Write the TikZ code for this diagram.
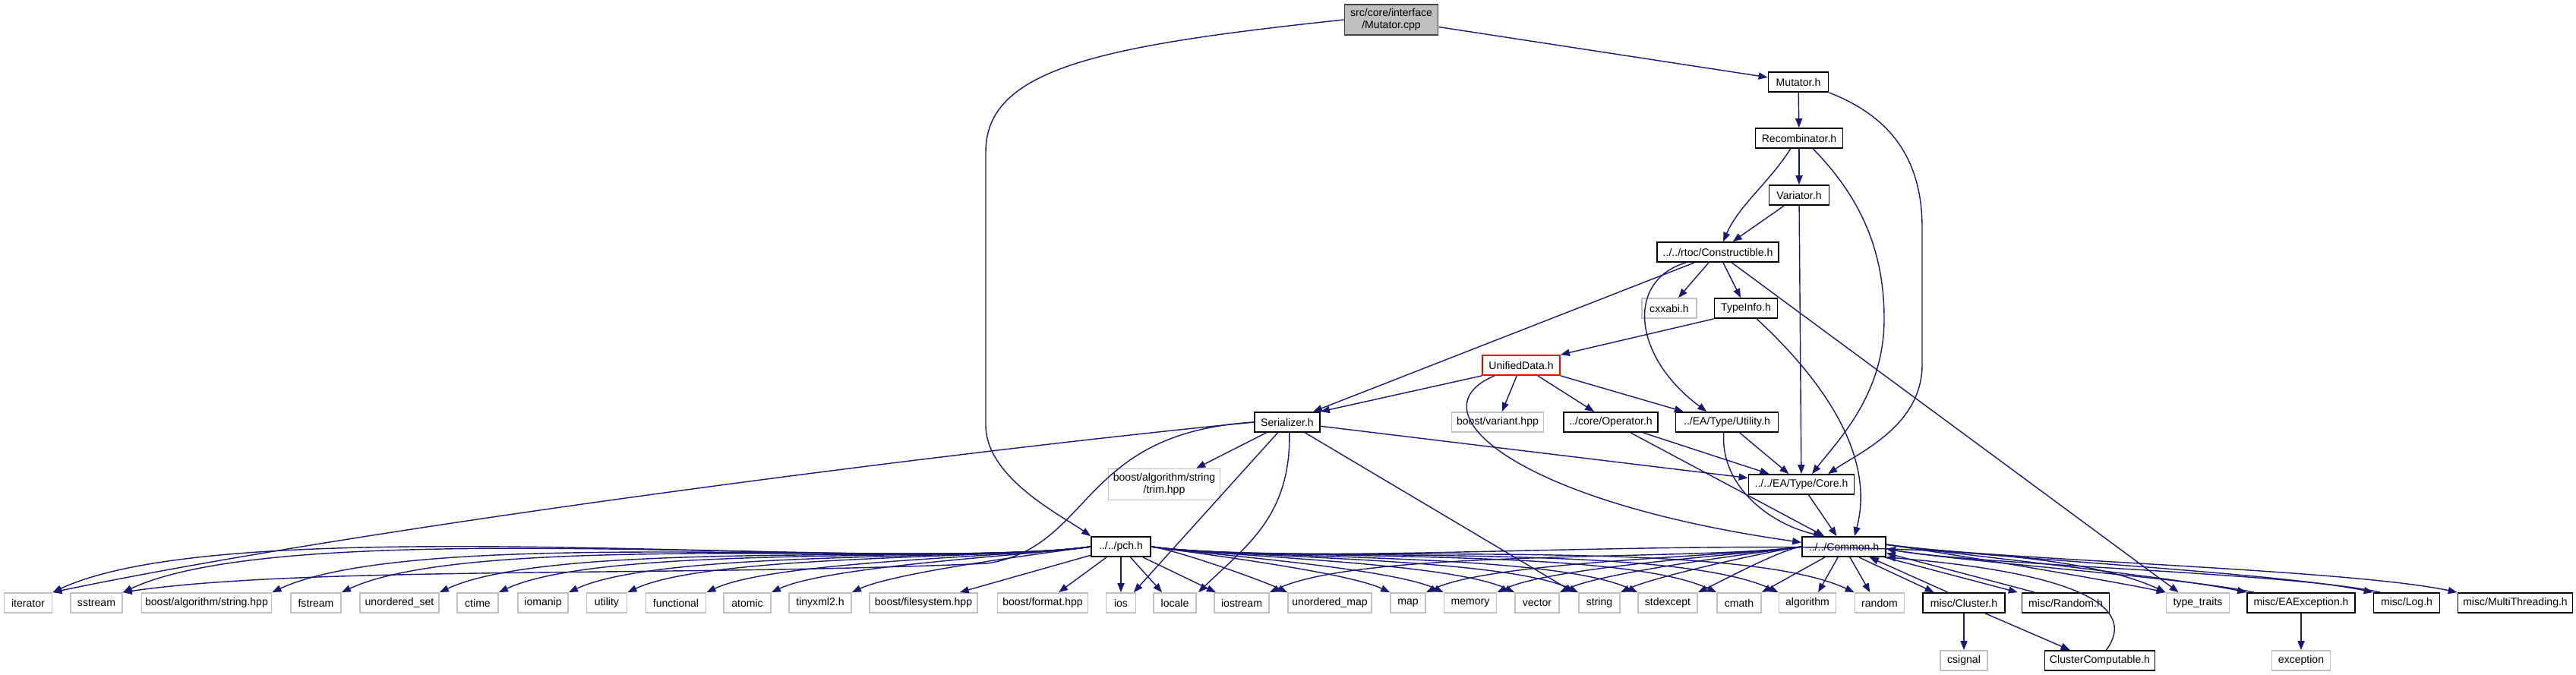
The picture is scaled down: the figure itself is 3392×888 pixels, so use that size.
\documentclass[tikz,border=0pt]{standalone}
\usepackage{fontspec}
\setsansfont{Liberation Sans}
\usepackage{xcolor}
\usetikzlibrary{arrows.meta}
\definecolor{inclblue}{HTML}{191970}
\definecolor{extgray}{HTML}{BFBFBF}

\begin{document}
\begin{tikzpicture}[x=0.025cm,y=-0.025cm,>={Triangle[length=8.5pt,width=6.5pt]},
  font=\sffamily\fontsize{10}{11.5}\selectfont,
  hbox/.style={draw,line width=1.3pt,fill=white,inner sep=0pt,minimum height=0.65cm},
  hdr/.style={hbox,draw=black},
  ext/.style={hbox,draw=extgray},
  rootbox/.style={hbox,draw=black!75,fill=extgray,align=center,minimum height=1cm},
  bw/.style={minimum width=#1*0.025cm},
  incl/.style={->,draw=inclblue,line width=1pt}]
  \useasboundingbox (0,0) rectangle (3392,888);

  \node[rootbox,bw=123] (root) at (1832,26) {src/core/interface\\/Mutator.cpp};
  \node[hdr,bw=79] (mutator) at (2368,108) {Mutator.h};
  \node[hdr,bw=115] (recomb) at (2369,182) {Recombinator.h};
  \node[hdr,bw=79] (variator) at (2369,257) {Variator.h};
  \node[hdr,bw=160] (constr) at (2262,332) {../../rtoc/Constructible.h};
  \node[ext,bw=72] (cxxabi) at (2198,406) {cxxabi.h};
  \node[hdr,bw=83] (typeinfo) at (2299,406) {TypeInfo.h};
  \node[hdr,draw=red,bw=102] (unified) at (2003,481) {UnifiedData.h};
  \node[hdr,bw=86] (serializer) at (1695,556) {Serializer.h};
  \node[ext,bw=121] (variant) at (1972,556) {boost/variant.hpp};
  \node[hdr,bw=124] (operator) at (2121,556) {../core/Operator.h};
  \node[hdr,bw=135] (utility) at (2274,556) {../EA/Type/Utility.h};
  \node[ext,bw=147,minimum height=41*0.025cm,align=center] (trim) at (1533,638)
    {boost/algorithm/string\\/trim.hpp};
  \node[hdr,bw=139] (core) at (2372,638) {../../EA/Type/Core.h};
  \node[hdr,bw=78] (pch) at (1476,720) {../../pch.h};
  \node[hdr,bw=110] (common) at (2428,720) {../../Common.h};

  % bottom row
  \node[ext,bw=63] (iterator) at (37,794) {iterator};
  \node[ext,bw=68] (sstream) at (127,794) {sstream};
  \node[ext,bw=171] (strhpp) at (272,794) {boost/algorithm/string.hpp};
  \node[ext,bw=66] (fstream) at (416,794) {fstream};
  \node[ext,bw=104] (unordset) at (526,794) {unordered\_set};
  \node[ext,bw=54] (ctime) at (629,794) {ctime};
  \node[ext,bw=66] (iomanip) at (715,794) {iomanip};
  \node[ext,bw=53] (utilhdr) at (799,794) {utility};
  \node[ext,bw=79] (functional) at (890,794) {functional};
  \node[ext,bw=62] (atomic) at (984,794) {atomic};
  \node[ext,bw=82] (tinyxml) at (1080,794) {tinyxml2.h};
  \node[ext,bw=142] (filesystem) at (1216,794) {boost/filesystem.hpp};
  \node[ext,bw=119] (format) at (1373,794) {boost/format.hpp};
  \node[ext,bw=39] (ios) at (1476,794) {ios};
  \node[ext,bw=56] (locale) at (1547,794) {locale};
  \node[ext,bw=72] (iostream) at (1635,794) {iostream};
  \node[ext,bw=110] (unordmap) at (1751,794) {unordered\_map};
  \node[ext,bw=46] (map) at (1854,794) {map};
  \node[ext,bw=69] (memory) at (1936,794) {memory};
  \node[ext,bw=58] (vector) at (2024,794) {vector};
  \node[ext,bw=54] (string) at (2106,794) {string};
  \node[ext,bw=78] (stdexcept) at (2196,794) {stdexcept};
  \node[ext,bw=58] (cmath) at (2290,794) {cmath};
  \node[ext,bw=75] (algorithm) at (2380,794) {algorithm};
  \node[ext,bw=65] (random) at (2475,794) {random};
  \node[hdr,bw=108] (cluster) at (2586,794) {misc/Cluster.h};
  \node[hdr,bw=115] (miscrandom) at (2720,794) {misc/Random.h};
  \node[ext,bw=83] (typetraits) at (2894,794) {type\_traits};
  \node[hdr,bw=142] (eaexception) at (3030,794) {misc/EAException.h};
  \node[hdr,bw=87] (log) at (3169,794) {misc/Log.h};
  \node[hdr,bw=151] (multithreading) at (3312,794) {misc/MultiThreading.h};
  \node[ext,bw=62] (csignal) at (2586,870) {csignal};
  \node[hdr,bw=145] (clustercomp) at (2765,870) {ClusterComputable.h};
  \node[ext,bw=77] (exception) at (3030,870) {exception};

  % upper includes
  \draw[incl] (root) -- (mutator);
  \draw[incl] (root.west) .. controls (1450,60) and (1298,90) .. (1298,200)
    -- (1298,560) .. controls (1298,630) and (1400,680) .. (pch.north west);
  \draw[incl] (mutator) -- (recomb);
  \draw[incl] (mutator.south east) .. controls (2480,150) and (2531,200) .. (2531,300)
    -- (2531,480) .. controls (2531,560) and (2450,595) .. ([xshift=25pt]core.north);
  \draw[incl] (recomb) -- (variator);
  \draw[incl] ([xshift=-8pt]recomb.south) .. controls (2330,240) and (2290,270)
    .. ([xshift=5pt]constr.north);
  \draw[incl] ([xshift=13pt]recomb.south) .. controls (2450,260) and (2481,330) .. (2481,420)
    .. controls (2481,520) and (2420,580) .. ([xshift=10pt]core.north);
  \draw[incl] ([xshift=-14pt]variator.south) -- ([xshift=14pt]constr.north);
  \draw[incl] (variator) -- (core);
  \draw[incl] (constr) -- (cxxabi);
  \draw[incl] (constr) -- (typeinfo);
  \draw[incl] ([xshift=-22pt]constr.south) -- ([xshift=-7pt]serializer.north east);
  \draw[incl] ([xshift=-30pt]constr.south) .. controls (2140,370) and (2150,470)
    .. ([xshift=-19pt]utility.north);
  \draw[incl] ([xshift=13pt]constr.south) -- ([xshift=-18pt]typetraits.north);
  \draw[incl] (typeinfo.south west) -- (unified.north east);
  \draw[incl] ([xshift=10pt]typeinfo.south) .. controls (2400,500) and (2470,600)
    .. ([xshift=10pt]common.north);
  \draw[incl] (unified.south west) -- (serializer.north east);
  \draw[incl] (unified) -- (variant);
  \draw[incl] (unified) -- (operator);
  \draw[incl] (unified.south east) -- ([xshift=8pt]utility.north west);
  \draw[incl] ([xshift=-25pt]unified.south) .. controls (1860,540) and (1990,660)
    .. ([yshift=4pt]common.west);
  \draw[incl] (operator) -- (core);
  \draw[incl] (operator) -- (common);
  \draw[incl] (utility) -- (core);
  \draw[incl] ([xshift=-3pt]utility.south) .. controls (2265,640) and (2330,690)
    .. ([xshift=-20pt]common.north);
  \draw[incl] (core) -- (common);

  % Serializer.h
  \draw[incl] (serializer) -- (core);
  \draw[incl] (serializer) -- (trim);
  \draw[incl] (serializer.west) .. controls (1300,590) and (500,690) .. (iterator.north east);
  \draw[incl] (serializer.west) .. controls (1420,570) and (1440,720) .. (1300,742)
    .. controls (900,760) and (400,745) .. (sstream.north east);
  \draw[incl] (serializer) -- ([xshift=12pt]ios.north);
  \draw[incl] ([xshift=2pt]serializer.south) .. controls (1700,680) and (1640,720)
    .. ([xshift=22pt]locale.north);
  \draw[incl] (serializer) -- ([xshift=-24pt]string.north);

  % pch.h
  \foreach \t in {iterator,sstream,strhpp,fstream,unordset,ctime,iomanip,utilhdr,
                  functional,atomic,tinyxml}
    \draw[incl] (pch.west) to[out=188,in=25,looseness=0.5] (\t.north east);
  \draw[incl] (pch) -- ([xshift=34pt]filesystem.north);
  \draw[incl] (pch) -- ([xshift=15pt]format.north);
  \draw[incl] (pch) -- (ios);
  \draw[incl] (pch) -- ([xshift=-12pt]locale.north);
  \draw[incl] (pch) -- ([xshift=2pt]iostream.north west);
  \foreach \t in {unordmap,map,memory,vector,string,stdexcept,cmath,algorithm,random,typetraits}
    \draw[incl] (pch.east) to[out=-8,in=155,looseness=0.5] (\t.north west);

  % Common.h
  \foreach \t in {iostream,map,memory,vector,string,stdexcept}
    \draw[incl] (common.west) to[out=188,in=25,looseness=0.5] (\t.north east);
  \draw[incl] (common) -- (cmath.north east);
  \draw[incl] (common) -- ([xshift=10pt]algorithm.north);
  \draw[incl] (common) -- ([xshift=-9pt]random.north);
  \draw[incl] ([xshift=14pt]common.south) -- ([xshift=-28pt]cluster.north);
  \draw[incl] ([xshift=-15pt]cluster.north) -- ([xshift=24pt]common.south);
  \draw[incl] ([xshift=38pt]common.south) -- ([xshift=-45pt]miscrandom.north);
  \draw[incl] ([xshift=-29pt]miscrandom.north) -- ([yshift=-6pt]common.east);
  \foreach \t in {typetraits,eaexception,log,multithreading}
    \draw[incl] ([yshift=2pt]common.east) to[out=-8,in=168,looseness=0.5] (\t.north west);
  \foreach \t in {eaexception,log}
    \draw[incl] ([xshift=7pt]\t.north west) to[out=168,in=-10,looseness=0.5]
      ([yshift=-2pt]common.east);
  \draw[incl] (cluster) -- (csignal);
  \draw[incl] ([xshift=20pt]cluster.south) -- ([xshift=-28pt]clustercomp.north);
  \draw[incl] ([xshift=6pt]clustercomp.north) .. controls (2815,800) and (2740,755)
    .. (common.south east);
  \draw[incl] (eaexception) -- (exception);
\end{tikzpicture}
\end{document}
